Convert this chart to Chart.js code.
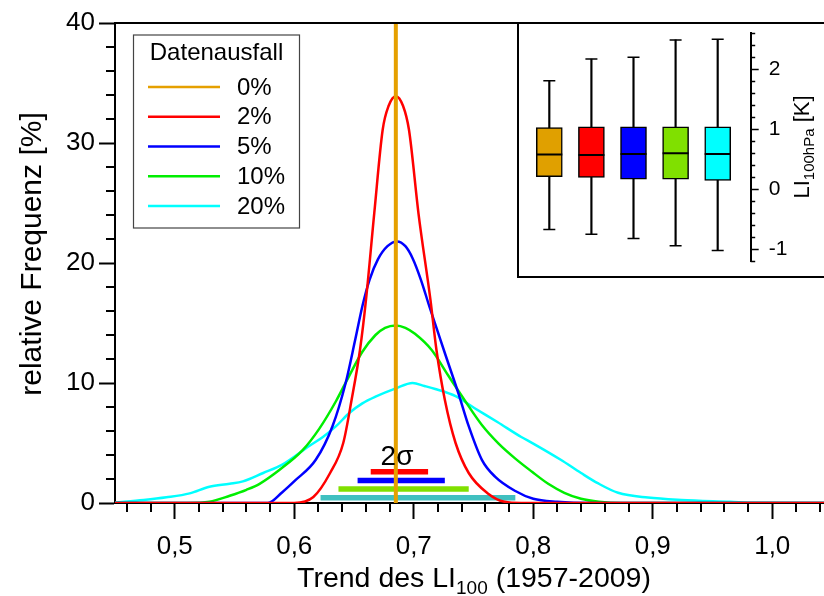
<!DOCTYPE html>
<html lang="de">
<head>
<meta charset="UTF-8">
<title>Trend des LI100 (1957-2009)</title>
<script src="https://cdn.jsdelivr.net/npm/chart.js"></script>
<style>
  html, body { margin: 0; padding: 0; background: #fff; overflow: hidden; }
  #wrap { position: relative; width: 824px; height: 596px; }
  #inset {
    position: absolute; left: 517px; top: 22px; width: 307px; height: 256px;
    box-sizing: border-box; border: 2px solid #000; border-right: none; background: #fff;
  }
  #inset canvas { display: block; }
</style>
</head>
<body>
<div id="wrap">
  <canvas id="trendChart" width="824" height="596"></canvas>
  <div id="inset"><canvas id="boxChart" width="305" height="252"></canvas></div>
</div>

<script>
// Datenausfall-Klassen
const labels = ['0%', '2%', '5%', '10%', '20%'];
const lineColors = ['#e5a000', '#ff0000', '#0000ff', '#00ee00', '#00ffff'];

// 0% Datenausfall: Trend der vollstaendigen Reihe
const trend0 = 0.685;

// relative Frequenz [%] der Trends bei 2% Datenausfall
const x2 = [0.45, 0.600, 0.616, 0.630, 0.641, 0.648, 0.655, 0.660, 0.667, 0.674, 0.679, 0.685,
            0.691, 0.696, 0.704, 0.714, 0.719, 0.726, 0.735, 0.746, 0.762, 0.776, 0.790, 1.05];
const y2 = [0, 0, 0.5, 2.5, 5.0, 8.6, 12.75, 16.9, 24.2, 31.1, 33.1, 33.9,
            33.1, 31.1, 24.1, 16.9, 12.75, 8.6, 5.0, 2.5, 0.8, 0.1, 0, 0];

// 5% Datenausfall
const x5 = [0.45, 0.578, 0.590, 0.601, 0.618, 0.632, 0.643, 0.651, 0.657, 0.663, 0.670, 0.678,
            0.686, 0.693, 0.699, 0.706, 0.713, 0.720, 0.726, 0.7375, 0.746, 0.757, 0.768, 0.785,
            0.800, 0.820, 0.850, 1.05];
const y5 = [0, 0, 0.9, 1.9, 3.6, 6.4, 10.0, 13.6, 16.4, 18.6, 20.3, 21.4,
            21.8, 21.4, 20.4, 18.6, 16.4, 14.3, 12.5, 9.1, 6.4, 3.6, 2.2, 1.0,
            0.35, 0.1, 0, 0];

// 10% Datenausfall
const x10 = [0.45, 0.510, 0.529, 0.546, 0.560, 0.571, 0.5875, 0.607, 0.621, 0.635, 0.646, 0.657,
             0.668, 0.676, 0.685, 0.693, 0.701, 0.715, 0.729, 0.743, 0.757, 0.771, 0.785, 0.799,
             0.8125, 0.826, 0.840, 0.855, 0.875, 1.05];
const y10 = [0, 0, 0.1, 0.6, 1.1, 1.6, 2.75, 4.4, 6.2, 8.5, 10.6, 12.6,
             14.0, 14.6, 14.8, 14.6, 14.1, 12.75, 10.6, 8.5, 6.5, 4.95, 3.7, 2.6,
             1.6, 0.85, 0.35, 0.1, 0, 0];

// 20% Datenausfall
const x20 = [0.45, 0.474, 0.493, 0.5125, 0.529, 0.546, 0.557, 0.574, 0.590, 0.6125, 0.624, 0.635,
             0.646, 0.657, 0.668, 0.685, 0.699, 0.709, 0.718, 0.735, 0.751, 0.770, 0.790, 0.800,
             0.823, 0.840, 0.854, 0.871, 0.896, 0.924, 0.965, 0.985, 1.05];
const y20 = [0.05, 0.25, 0.47, 0.8, 1.36, 1.6, 1.8, 2.5, 3.2, 4.75, 5.5, 6.4,
             7.5, 8.3, 8.86, 9.55, 10.0, 9.75, 9.5, 8.9, 7.9, 6.75, 5.5, 4.95,
             3.6, 2.5, 1.65, 0.85, 0.45, 0.25, 0.1, 0.02, 0];

// 2-Sigma-Bereiche (2%, 5%, 10%, 20%)
const sigmaLo = [0.664, 0.653, 0.637, 0.622];
const sigmaHi = [0.712, 0.726, 0.746, 0.785];
const sigmaColors = ['#ff0000', '#0000ff', '#80e000', '#40c0c0'];

// Boxplots LI 100hPa [K] je Klasse
const boxMin = [-0.67, -0.75, -0.82, -0.94, -1.02];
const boxQ1  = [0.21, 0.20, 0.17, 0.17, 0.15];
const boxMed = [0.58, 0.57, 0.59, 0.60, 0.59];
const boxQ3  = [1.03, 1.04, 1.04, 1.04, 1.04];
const boxMax = [1.81, 2.17, 2.20, 2.49, 2.50];
const boxColors = ['#e0a000', '#ff0000', '#0000ff', '#80e000', '#00ffff'];

const FONT = 'Arial, "Liberation Sans", sans-serif';
const pts = (xs, ys) => xs.map((x, i) => ({ x: x, y: ys[i] }));
const near = (v, step) => Math.abs(v / step - Math.round(v / step)) < 1e-6;

const curves = [pts(x2, y2), pts(x5, y5), pts(x10, y10), pts(x20, y20)];

const datasets = [{
  label: labels[0],
  data: [{ x: trend0, y: 0 }, { x: trend0, y: 40 }],
  borderColor: lineColors[0], borderWidth: 4, borderCapStyle: 'butt'
}];
curves.forEach((d, i) => datasets.push({
  label: labels[i + 1], data: d,
  borderColor: lineColors[i + 1], borderWidth: 2.5,
  cubicInterpolationMode: 'monotone'
}));
// Balken unter dem "2σ" stapeln
sigmaLo.forEach((lo, i) => datasets.push({
  label: '', data: [{ x: lo, y: 2.6 - i * 0.72 }, { x: sigmaHi[i], y: 2.6 - i * 0.72 }],
  borderColor: sigmaColors[i], borderWidth: 5.5, borderCapStyle: 'butt'
}));

// kleine Teilstriche, Rahmen, Achsentitel, Legende
const decor = {
  id: 'decor',
  afterDraw(chart) {
    const ctx = chart.ctx, a = chart.chartArea;
    const xs = chart.scales.x, ys = chart.scales.y;
    ctx.save();
    ctx.strokeStyle = '#000';
    ctx.lineWidth = 2;
    ctx.beginPath();
    xs.ticks.forEach(t => {
      if (near(t.value, 0.1)) return;
      const px = Math.round(xs.getPixelForValue(t.value));
      ctx.moveTo(px, a.bottom); ctx.lineTo(px, a.bottom + 9);
    });
    ys.ticks.forEach(t => {
      if (t.value % 10 === 0) return;
      const py = Math.round(ys.getPixelForValue(t.value));
      ctx.moveTo(a.left - 9, py); ctx.lineTo(a.left, py);
    });
    // obere Rahmenlinie
    ctx.moveTo(a.left, a.top); ctx.lineTo(a.right, a.top);
    ctx.stroke();

    // 2 sigma
    ctx.fillStyle = '#000';
    ctx.font = '28px ' + FONT;
    ctx.textAlign = 'center';
    ctx.textBaseline = 'middle';
    ctx.fillText('2σ', xs.getPixelForValue(0.686), ys.getPixelForValue(3.85));

    // y-Titel
    ctx.save();
    ctx.translate(33, 254);
    ctx.rotate(-Math.PI / 2);
    ctx.font = '30px ' + FONT;
    ctx.fillText('relative Frequenz [%]', 0, 0);
    ctx.restore();

    // x-Titel mit Index
    ctx.textAlign = 'left';
    ctx.textBaseline = 'alphabetic';
    const big = '28.5px ' + FONT, small = '19px ' + FONT;
    const p1 = 'Trend des LI', p2 = '100', p3 = ' (1957-2009)';
    ctx.font = big; const w1 = ctx.measureText(p1).width, w3 = ctx.measureText(p3).width;
    ctx.font = small; const w2 = ctx.measureText(p2).width;
    let tx = 474 - (w1 + w2 + w3) / 2;
    const base = 587;
    ctx.font = big; ctx.fillText(p1, tx, base); tx += w1;
    ctx.font = small; ctx.fillText(p2, tx, base + 7); tx += w2;
    ctx.font = big; ctx.fillText(p3, tx, base);

    // Legende
    const lx = 133.5, ly = 35, lw = 166, lh = 193;
    ctx.fillStyle = '#fff';
    ctx.fillRect(lx, ly, lw, lh);
    ctx.strokeStyle = '#444';
    ctx.lineWidth = 1.2;
    ctx.strokeRect(lx, ly, lw, lh);
    ctx.fillStyle = '#000';
    ctx.font = '24px ' + FONT;
    ctx.textAlign = 'center';
    ctx.textBaseline = 'middle';
    ctx.fillText('Datenausfall', lx + lw / 2, 53);
    ctx.textAlign = 'left';
    labels.forEach((lab, i) => {
      const yy = 87 + i * 29.75;
      ctx.strokeStyle = lineColors[i];
      ctx.lineWidth = 2.5;
      ctx.beginPath(); ctx.moveTo(148, yy); ctx.lineTo(220, yy); ctx.stroke();
      ctx.fillText(lab, 237, yy + 1);
    });
    ctx.restore();
  }
};

new Chart(document.getElementById('trendChart'), {
  type: 'line',
  data: { datasets: datasets },
  options: {
    responsive: false,
    animation: false,
    layout: { autoPadding: false, padding: { top: 23, right: 0, left: 0, bottom: 0 } },
    elements: { point: { radius: 0 } },
    plugins: { legend: { display: false }, tooltip: { enabled: false } },
    scales: {
      x: {
        type: 'linear', min: 0.45, max: 1.0433,
        afterFit(s) { s.height = 93; s.paddingLeft = 0; s.paddingRight = 0; },
        border: { display: true, color: '#000', width: 2 },
        grid: {
          drawOnChartArea: false, drawTicks: true, tickLength: 16, tickWidth: 2,
          tickColor: c => near(c.tick.value, 0.1) ? '#000' : 'rgba(0,0,0,0)'
        },
        ticks: {
          stepSize: 0.02, includeBounds: false, autoSkip: false, maxRotation: 0,
          padding: 12, color: '#000', font: { size: 26, family: FONT },
          callback: v => near(v, 0.1) ? v.toFixed(1).replace('.', ',') : ''
        }
      },
      y: {
        min: 0, max: 40,
        afterFit(s) { s.width = 115; },
        border: { display: true, color: '#000', width: 2 },
        grid: {
          drawOnChartArea: false, drawTicks: true, tickLength: 16, tickWidth: 2,
          tickColor: c => c.tick.value % 10 === 0 ? '#000' : 'rgba(0,0,0,0)'
        },
        ticks: {
          stepSize: 2, autoSkip: false, padding: 4, color: '#000',
          font: { size: 26, family: FONT },
          callback: v => v % 10 === 0 ? v : ''
        }
      }
    }
  },
  plugins: [decor]
});

// Boxplot-Einsatz
const idx = [1, 2, 3, 4, 5];
const insetDecor = {
  id: 'insetDecor',
  afterDraw(chart) {
    const ctx = chart.ctx, a = chart.chartArea, ys = chart.scales.y;
    ctx.save();
    ctx.strokeStyle = '#000';
    ctx.lineWidth = 1.5;
    ctx.beginPath();
    ys.ticks.forEach(t => {
      if (near(t.value, 1)) return;
      const py = Math.round(ys.getPixelForValue(t.value)) + 0.5;
      ctx.moveTo(a.right, py); ctx.lineTo(a.right + 4.5, py);
    });
    ctx.stroke();
    // Titel LI_100hPa [K]
    ctx.translate(284, 123);
    ctx.rotate(-Math.PI / 2);
    ctx.fillStyle = '#000';
    ctx.textBaseline = 'middle';
    const big = '22px ' + FONT, small = '15px ' + FONT;
    const p1 = 'LI', p2 = '100hPa', p3 = ' [K]';
    ctx.font = big; const w1 = ctx.measureText(p1).width, w3 = ctx.measureText(p3).width;
    ctx.font = small; const w2 = ctx.measureText(p2).width;
    let tx = -(w1 + w2 + w3) / 2;
    ctx.font = big; ctx.fillText(p1, tx, 0); tx += w1;
    ctx.font = small; ctx.fillText(p2, tx, 7); tx += w2;
    ctx.font = big; ctx.fillText(p3, tx, 0);
    ctx.restore();
  }
};

new Chart(document.getElementById('boxChart'), {
  type: 'bar',
  data: {
    datasets: [
      {
        type: 'scatter', data: idx.map((x, i) => ({ x: x, y: boxMed[i] })),
        pointStyle: 'line', pointRadius: 13, pointBorderWidth: 2, pointBorderColor: '#000', order: 0
      },
      {
        type: 'scatter',
        data: idx.map((x, i) => ({ x: x, y: boxMax[i] })).concat(idx.map((x, i) => ({ x: x, y: boxMin[i] }))),
        pointStyle: 'line', pointRadius: 6, pointBorderWidth: 1.5, pointBorderColor: '#000', order: 0
      },
      {
        data: idx.map((x, i) => ({ x: x, y: [boxQ1[i], boxQ3[i]] })),
        backgroundColor: boxColors, borderColor: '#000', borderWidth: 1.5, borderSkipped: false,
        barThickness: 26, grouped: false, order: 1
      },
      {
        data: idx.map((x, i) => ({ x: x, y: [boxMin[i], boxMax[i]] })),
        backgroundColor: '#000', barThickness: 1.5, grouped: false, order: 2
      }
    ]
  },
  options: {
    responsive: false,
    animation: false,
    layout: { autoPadding: false, padding: { top: 9.3, bottom: 14.7, left: 0, right: 0 } },
    plugins: { legend: { display: false }, tooltip: { enabled: false } },
    scales: {
      x: {
        type: 'linear', min: 0.28, max: 5.784, offset: false, beginAtZero: false,
        display: false
      },
      y: {
        position: 'right', min: -1.2, max: 2.6, beginAtZero: false,
        afterFit(s) { s.width = 73.3; s.paddingTop = 0; s.paddingBottom = 0; },
        border: { display: true, color: '#000', width: 2 },
        grid: {
          drawOnChartArea: false, drawTicks: true, tickLength: 8, tickWidth: 1.5,
          tickColor: c => near(c.tick.value, 1) ? '#000' : 'rgba(0,0,0,0)'
        },
        ticks: {
          stepSize: 0.2, includeBounds: false, autoSkip: false, padding: 10, color: '#000',
          font: { size: 21, family: FONT },
          callback: v => near(v, 1) ? Math.round(v) : ''
        }
      }
    }
  },
  plugins: [insetDecor]
});
</script>
</body>
</html>
